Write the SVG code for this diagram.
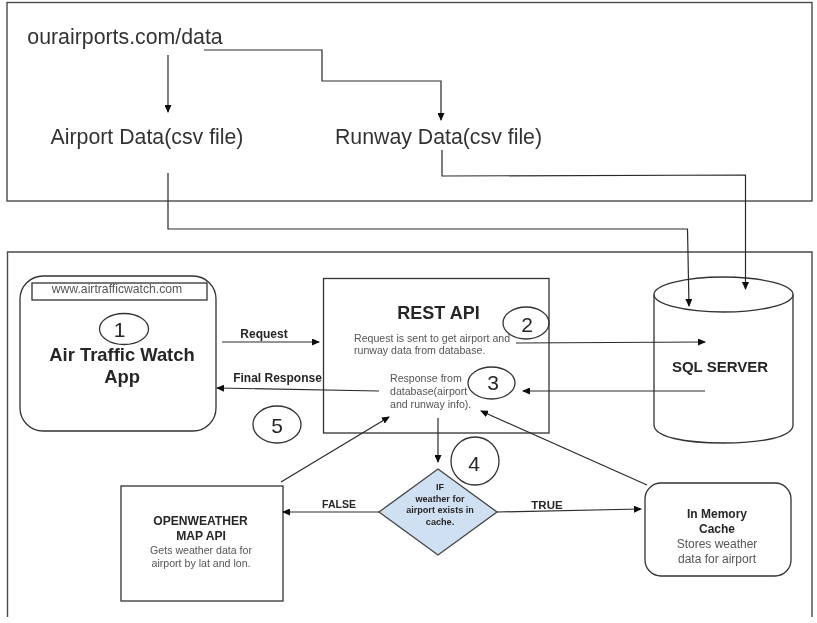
<svg xmlns="http://www.w3.org/2000/svg" width="817" height="623" viewBox="0 0 817 623">
<style>
text{font-family:"Liberation Sans",Arial,sans-serif;text-anchor:middle;fill:#262626}
.s{fill:none;stroke:#333;stroke-width:1.3}
.f{fill:none;stroke:#4a4a4a;stroke-width:1.4}
.c{fill:none;stroke:#2a2a2a;stroke-width:1.2;marker-end:url(#a)}
.g{fill:#555}
.gs{fill:#555;text-anchor:start}
.b{font-weight:bold}
.n{font-size:21px}
.t{font-size:21.300px;fill:#333}
</style>
<defs>
<marker id="a" markerWidth="8" markerHeight="7" refX="7" refY="3.5" orient="auto" markerUnits="userSpaceOnUse"><path d="M0 0L8 3.5L0 7z" fill="#111"/></marker>
<filter id="soft" filterUnits="userSpaceOnUse" x="0" y="0" width="817" height="623"><feGaussianBlur stdDeviation="0.45"/></filter>
</defs>
<rect width="817" height="623" fill="#fff"/>
<g filter="url(#soft)">
<g id="frame-top"><rect class="f" x="7" y="2.500" width="805" height="198.500"/></g>
<g id="frame-bottom"><path class="f" d="M7.500 617V252H812V617"/></g>
<g id="source"><text x="125" y="44" class="t">ourairports.com/data</text></g>
<g id="airport-data"><text x="147" y="144" class="t">Airport Data(csv file)</text></g>
<g id="runway-data"><text x="438.500" y="144" class="t">Runway Data(csv file)</text></g>
<g id="app">
<rect class="s" x="20" y="276" width="196" height="155" rx="23"/>
<rect class="s" x="32" y="283" width="175" height="17"/>
<text x="117" y="293" font-size="12.200" class="g">www.airtrafficwatch.com</text>
<ellipse class="s" cx="124" cy="329" rx="24.500" ry="15.500"/>
<text x="119.500" y="337" class="n">1</text>
<text x="122" y="361" font-size="18.400" class="b">Air Traffic Watch</text>
<text x="122" y="383" font-size="18.400" class="b">App</text>
</g>
<g id="rest-api">
<rect class="s" x="323.500" y="278.500" width="225.500" height="154.500"/>
<text x="438.500" y="319" font-size="18" class="b">REST API</text>
<text x="354" y="342" font-size="10.600" class="gs">Request is sent to get airport and</text>
<text x="354" y="354" font-size="10.600" class="gs">runway data from database.</text>
<text x="390" y="382" font-size="10.600" class="gs">Response from</text>
<text x="390" y="395" font-size="10.600" class="gs">database(airport</text>
<text x="390" y="408" font-size="10.600" class="gs">and runway info).</text>
</g>
<g id="marker-2"><ellipse class="s" cx="526" cy="323" rx="23" ry="16"/><text x="527" y="332" class="n">2</text></g>
<g id="marker-3"><ellipse class="s" cx="491.500" cy="383" rx="23.500" ry="16"/><text x="493" y="390" class="n">3</text></g>
<g id="marker-4"><circle class="s" cx="475" cy="461" r="24"/><text x="474" y="471" class="n">4</text></g>
<g id="marker-5"><ellipse class="s" cx="277" cy="424.500" rx="24" ry="18.500"/><text x="277" y="433" class="n">5</text></g>
<g id="sql-server">
<path class="s" d="M654 294.500V425C654 437 685 443 723.500 443C762 443 793 437 793 425V294.500"/>
<ellipse class="s" cx="723.500" cy="294.500" rx="69.500" ry="17.500"/>
<text x="720" y="372" font-size="15" class="b">SQL SERVER</text>
</g>
<g id="decision">
<path d="M438 469L497 512L438 555L379 512Z" fill="#cfe0f2" stroke="#444" stroke-width="1.300"/>
<text x="440" y="490" font-size="9.100" class="b">IF</text>
<text x="440" y="502" font-size="9.100" class="b">weather for</text>
<text x="440" y="513" font-size="9.100" class="b">airport exists in</text>
<text x="440" y="525" font-size="9.100" class="b">cache.</text>
</g>
<g id="openweather">
<rect class="s" x="121" y="486" width="162" height="115"/>
<text x="200.500" y="525" font-size="12.100" class="b">OPENWEATHER</text>
<text x="201" y="540" font-size="12.100" class="b">MAP API</text>
<text x="201" y="554" font-size="10.600" class="g">Gets weather data for</text>
<text x="201" y="567" font-size="10.600" class="g">airport by lat and lon.</text>
</g>
<g id="cache">
<rect class="s" x="645" y="483" width="146" height="93" rx="16"/>
<text x="717" y="518" font-size="12" class="b">In Memory</text>
<text x="717" y="533" font-size="12" class="b">Cache</text>
<text x="717" y="548" font-size="12" class="g">Stores weather</text>
<text x="717" y="563" font-size="12" class="g">data for airport</text>
</g>
<g id="connectors">
<path class="c" d="M168 55V112"/>
<path class="c" d="M204 50H322V81H441V120"/>
<path class="c" d="M168 173V229H687.500L689 306"/>
<path class="c" d="M442 150V176L745.500 175V289"/>
<path class="c" d="M222 342H319"/>
<path class="c" d="M379 391L217 388"/>
<path class="c" d="M516 343L705 342"/>
<path class="c" d="M705 391H523"/>
<path class="c" d="M281 482L389 417"/>
<path class="c" d="M438 418V462"/>
<path class="c" d="M647 485L481 411"/>
<path class="c" d="M379 512H283"/>
<path class="c" d="M497 512L641 509"/>
</g>
<g id="labels">
<text x="264" y="338" font-size="12" class="b">Request</text>
<text x="277.500" y="382" font-size="12" class="b">Final Response</text>
<text x="339" y="508" font-size="10.500" class="b">FALSE</text>
<text x="547" y="509" font-size="11.500" class="b">TRUE</text>
</g>
</g>
</svg>
